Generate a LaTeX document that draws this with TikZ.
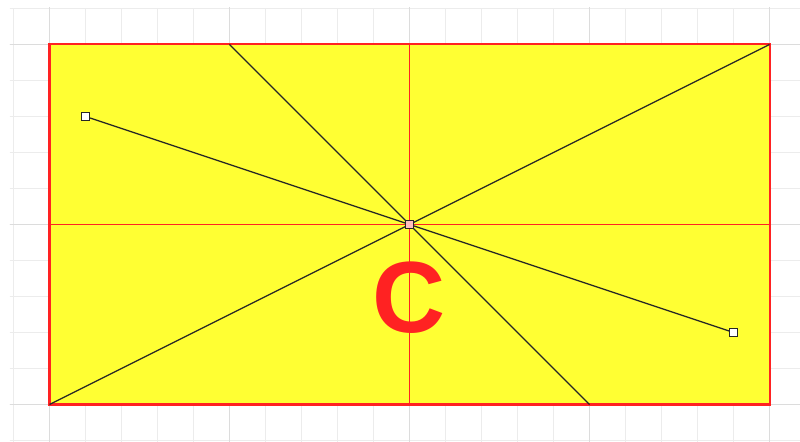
\documentclass[tikz,border=0pt]{standalone}
\usepackage{fontspec}
\newfontfamily\labelfont{Liberation Sans}
\definecolor{panelyellow}{RGB}{255,255,51}
\definecolor{panelred}{RGB}{255,34,34}
\definecolor{gridlight}{RGB}{236,236,236}
\definecolor{gridmajor}{RGB}{220,220,220}

\begin{document}
\begin{tikzpicture}[
    minor/.style={draw=gridlight,line width=1.1pt},
    major/.style={draw=gridmajor,line width=1.3pt},
    frame/.style={draw=panelred,fill=panelyellow,line width=1.6pt},
    axis/.style={draw=panelred,line width=1.2pt},
    ray/.style={draw=black!85,line width=1pt},
    handle/.style={draw=black!85,fill=white,line width=1pt,minimum size=0.22cm,inner sep=0pt},
    bigmark/.style={text=panelred,font=\labelfont\bfseries\fontsize{80}{80}\selectfont,inner sep=0pt}
]
\useasboundingbox (-1.375,-1.014) rectangle (20.847,11.236);

% grid
\begin{scope}
    \clip (-1.1,-1.1) rectangle (21,11.03);
    \draw[minor] (-2,-2) grid (22,11);
    \draw[major] (-5,-5) grid[step=5] (25,15);
\end{scope}

\coordinate (sw) at (0,0);
\coordinate (ne) at (20,10);
\coordinate (topmid) at (10,10);
\coordinate (botmid) at (10,0);
\coordinate (leftmid) at (0,5);
\coordinate (rightmid) at (20,5);
\coordinate (topq) at (5,10);
\coordinate (botq) at (15,0);

\draw[frame] (sw) rectangle (ne);
\draw[axis] (topmid) -- (botmid);
\draw[axis] (leftmid) -- (rightmid);

\draw[ray] (sw) -- (ne);
\draw[ray] (topq) -- (botq);

\node[handle] (pa) at (1,8) {};
\node[handle] (pb) at (19,2) {};
\draw[ray] (pa) -- (pb);
\node[handle,fill=red!25] (ctr) at (10,5) {};

\node[bigmark] (lbl) at (10,2.97) {C};

\end{tikzpicture}
\end{document}
